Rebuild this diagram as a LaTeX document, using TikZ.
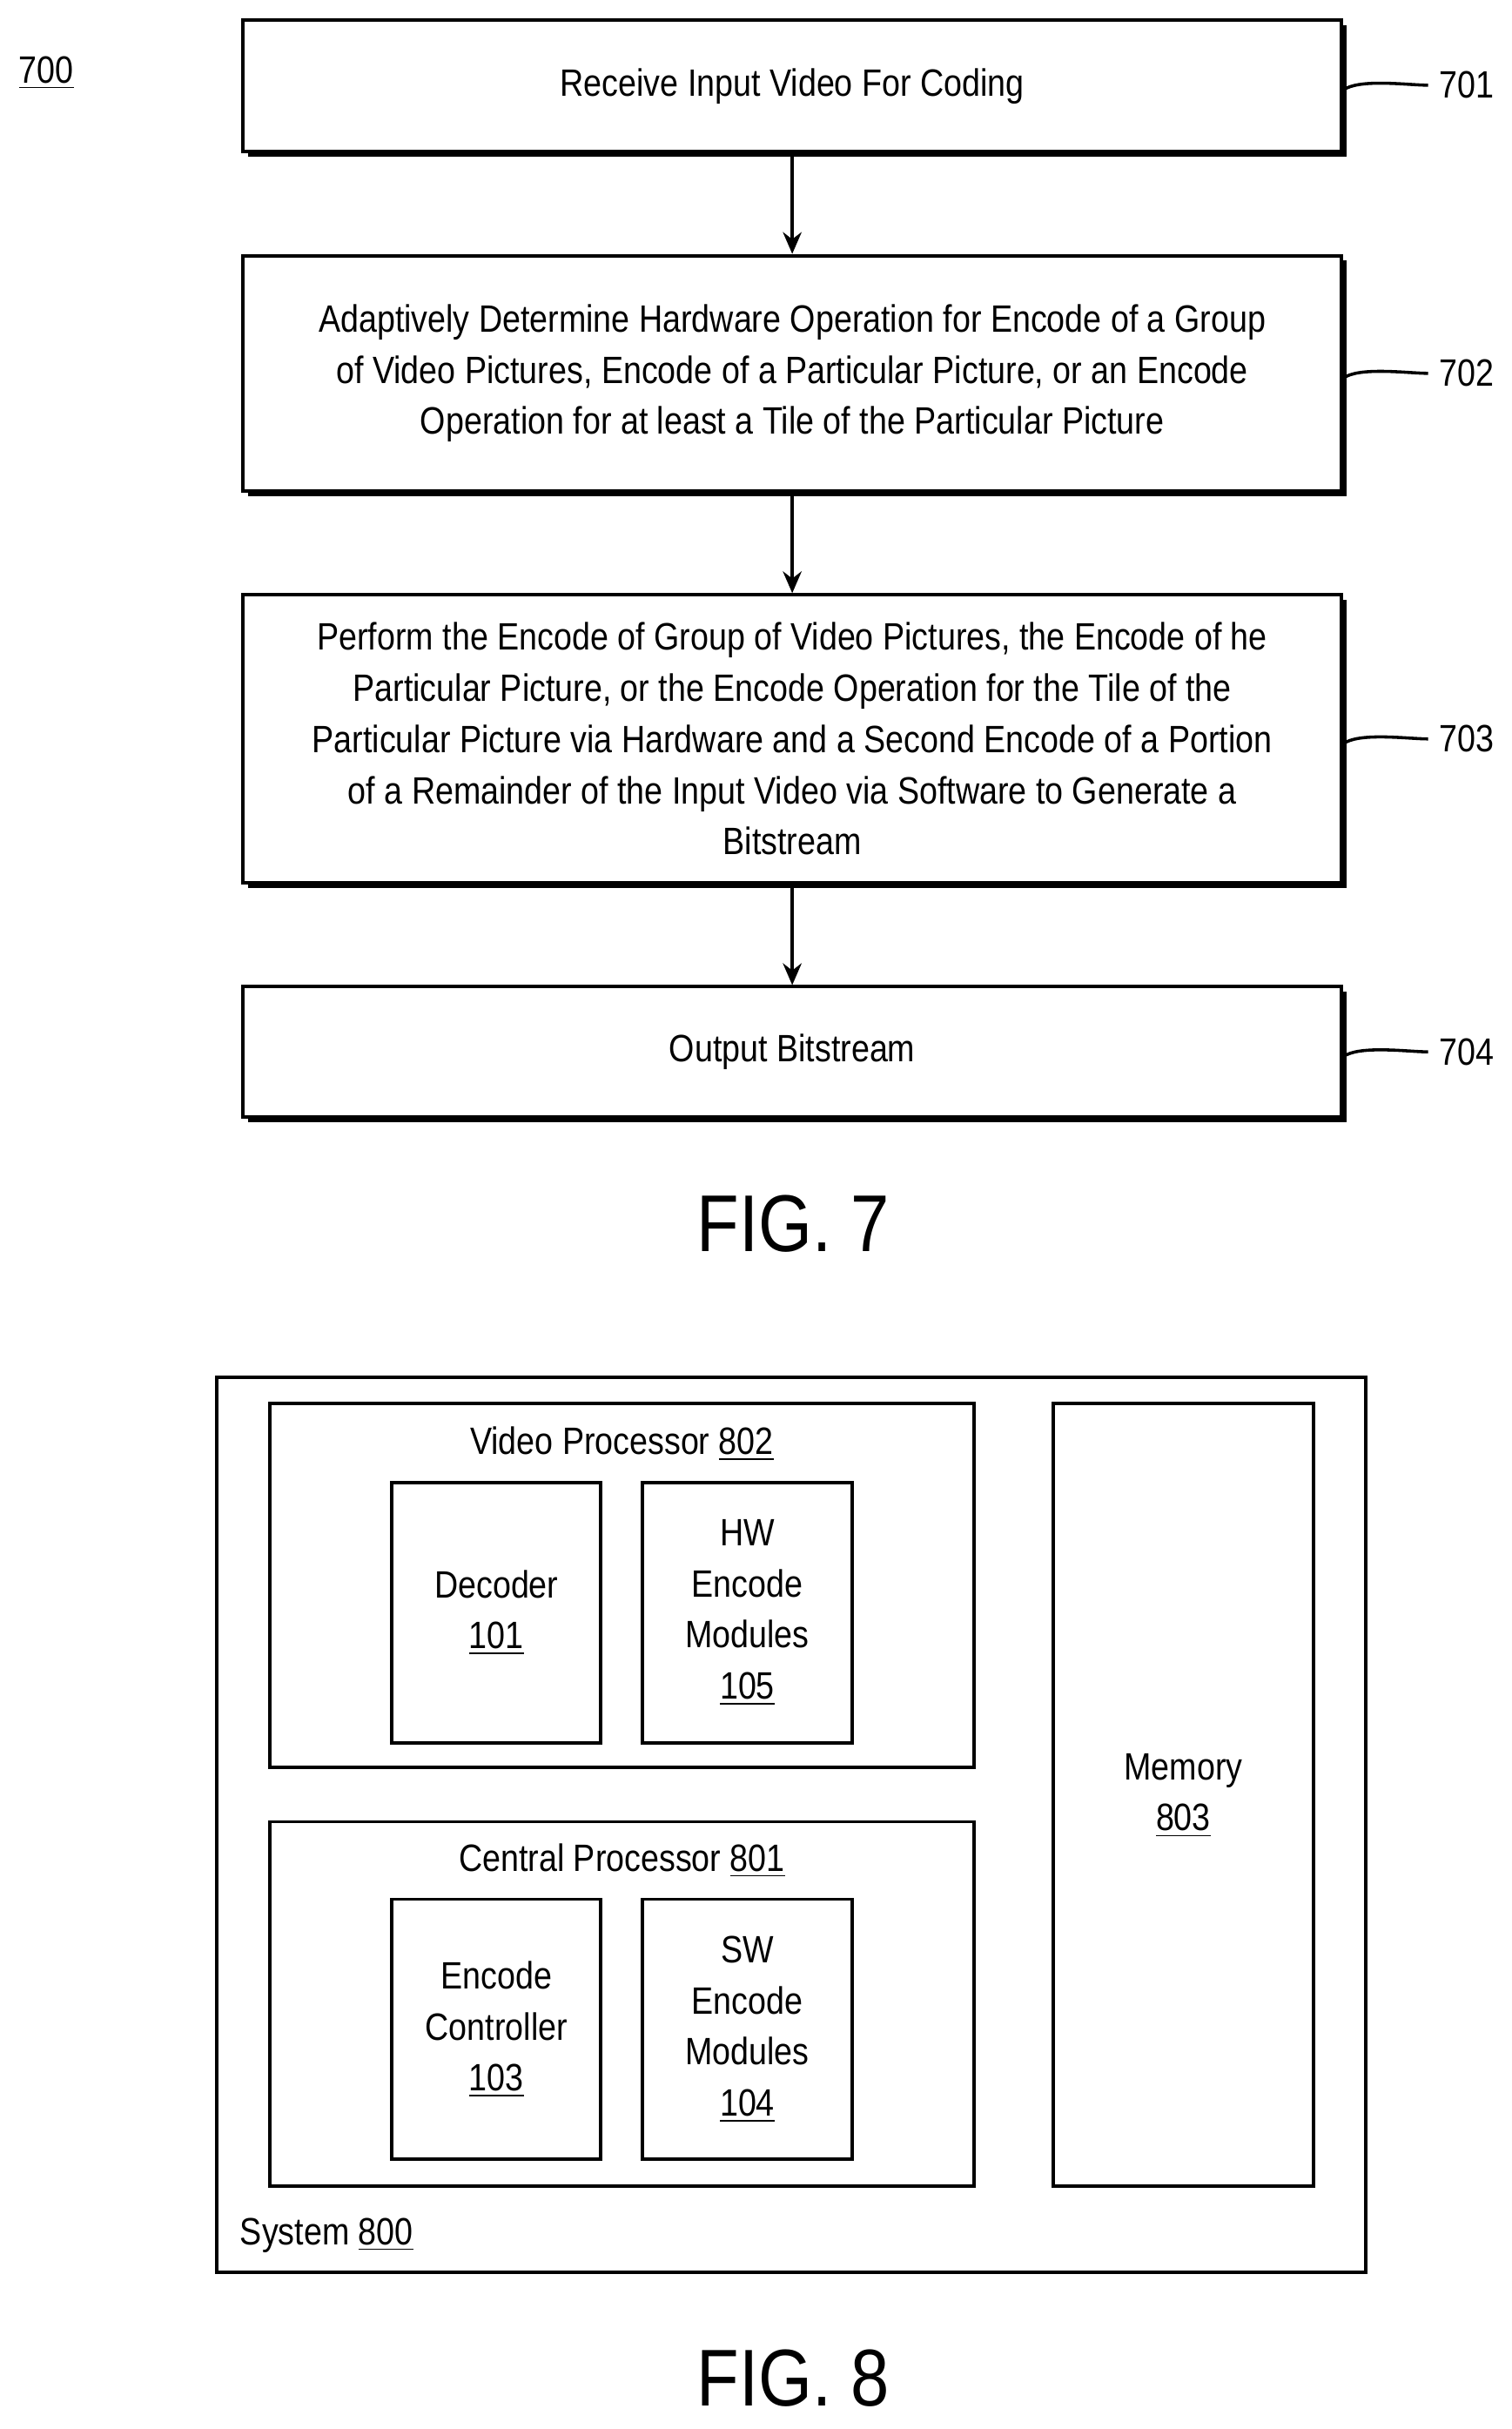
\documentclass[tikz,border=0pt]{standalone}
\usepackage{fontspec}
\setmainfont{Liberation Sans}[FakeStretch=0.86]
\usetikzlibrary{shadows,arrows.meta}
\begin{document}
\begin{tikzpicture}[x=0.5pt,y=-0.5pt,
  stepbox/.style={draw,line width=1.1pt,fill=white,align=center,font=\fontsize{12.3}{16.5}\selectfont,
    drop shadow={shadow xshift=1.6pt,shadow yshift=-1.6pt,fill=black,opacity=1},inner sep=0pt},
  blk/.style={draw,line width=1.1pt,align=center,font=\fontsize{12.3}{16.5}\selectfont,inner sep=0pt},
  lbl/.style={font=\fontsize{12.3}{15}\selectfont,anchor=west},
  arr/.style={line width=1.1pt,-{Stealth[length=7pt,width=6pt]}},
  lead/.style={line width=1pt}]
\useasboundingbox (0,0) rectangle (976,1568);
\node[font=\fontsize{12.3}{15}\selectfont] (n700) at (30,47) {\underline{700}};
\node[stepbox,minimum width=354.5pt,minimum height=42.5pt] (b1) at (511.5,55.5) {Receive Input Video For Coding};
\node[stepbox,minimum width=354.5pt,minimum height=76pt] (b2) at (511.5,241) {Adaptively Determine Hardware Operation for Encode of a Group\\of Video Pictures, Encode of a Particular Picture, or an Encode\\Operation for at least a Tile of the Particular Picture};
\node[stepbox,minimum width=354.5pt,minimum height=93pt] (b3) at (511.5,477) {Perform the Encode of Group of Video Pictures, the Encode of he\\Particular Picture, or the Encode Operation for the Tile of the\\Particular Picture via Hardware and a Second Encode of a Portion\\of a Remainder of the Input Video via Software to Generate a\\Bitstream};
\node[stepbox,minimum width=354.5pt,minimum height=42pt] (b4) at (511.5,679) {Output Bitstream};
\draw[arr] (b1.south) -- (b2.north);
\draw[arr] (b2.south) -- (b3.north);
\draw[arr] (b3.south) -- (b4.north);
\foreach \b/\t/\y in {b1/701/55,b2/702/241,b3/703/477,b4/704/679}{
  \node[lbl] (l\t) at (922,\y) {\t};
  \draw[lead] (\b.east |- 0,\y) ++(2,2) .. controls +(12,-6) and +(-12,0) .. (l\t.west);
}
\node[font=\fontsize{26}{30}\selectfont] (f7) at (512,790) {FIG. 7};

\node[blk,minimum width=371pt,minimum height=289pt] (sys) at (511,1178) {};
\node[font=\fontsize{12.3}{15}\selectfont,anchor=west] (s800) at (148,1443) {System \underline{800}};
\node[blk,minimum width=227.5pt,minimum height=117.5pt] (vp) at (401.5,1023.5) {};
\node[font=\fontsize{12.3}{15}\selectfont] (vpl) at (401.5,932) {Video Processor \underline{802}};
\node[blk,minimum width=67.5pt,minimum height=84pt] (dec) at (320.5,1041) {Decoder\\\underline{101}};
\node[blk,minimum width=67.5pt,minimum height=84pt] (hw) at (482.5,1041) {HW\\Encode\\Modules\\\underline{105}};
\node[blk,minimum width=227.5pt,minimum height=117.5pt] (cp) at (401.5,1293.5) {};
\node[font=\fontsize{12.3}{15}\selectfont] (cpl) at (401.5,1201) {Central Processor \underline{801}};
\node[blk,minimum width=67.5pt,minimum height=84pt] (ec) at (320.5,1310) {Encode\\Controller\\\underline{103}};
\node[blk,minimum width=67.5pt,minimum height=84pt] (sw) at (482.5,1310) {SW\\Encode\\Modules\\\underline{104}};
\node[blk,minimum width=84pt,minimum height=252.5pt] (mem) at (764,1158.5) {};
\node[font=\fontsize{12.3}{16.5}\selectfont,align=center] (meml) at (764,1159) {Memory\\\underline{803}};
\node[font=\fontsize{26}{30}\selectfont] (f8) at (512,1535) {FIG. 8};
\end{tikzpicture}
\end{document}
